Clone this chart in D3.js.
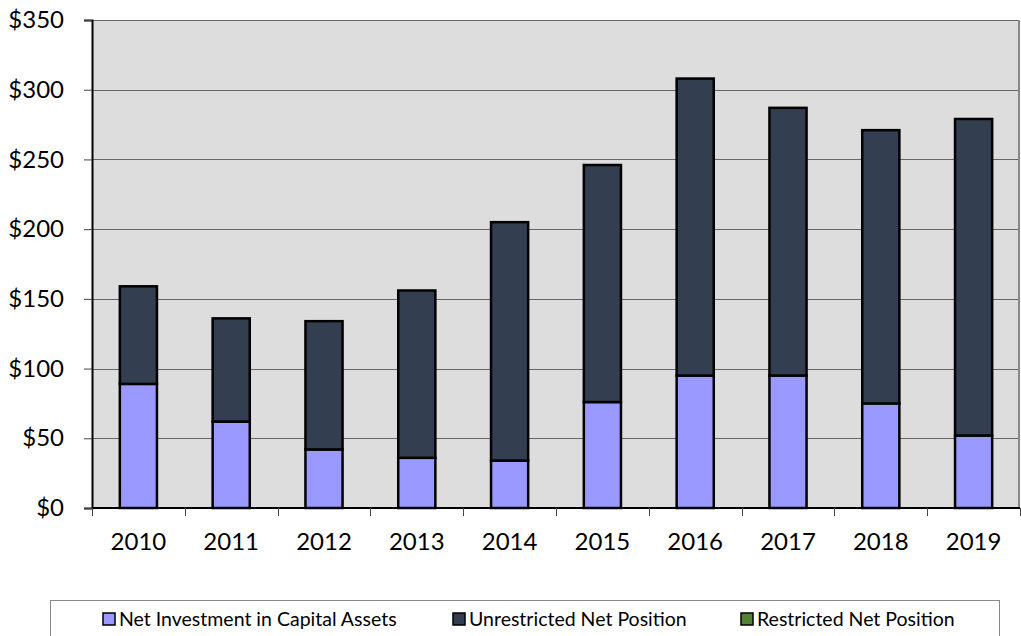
<!DOCTYPE html>
<html>
<head>
<meta charset="utf-8">
<script src="https://cdn.jsdelivr.net/npm/d3@7"></script>
<style>
  body { margin: 0; background: #fff; }
  text { font-family: Lato, "Open Sans", sans-serif; fill: #000; }
</style>
</head>
<body>
<div id="chart"></div>
<script>
var years = ["2010", "2011", "2012", "2013", "2014", "2015", "2016", "2017", "2018", "2019"]
var capitalAssets = [89, 62, 42, 36, 34, 76, 95, 95, 75, 52]
var unrestricted = [70, 74, 92, 120, 171, 170, 213, 192, 196, 227]
var restricted = [0, 0, 0, 0, 0, 0, 0, 0, 0, 0]
var seriesNames = ["Net Investment in Capital Assets", "Unrestricted Net Position", "Restricted Net Position"]
var seriesColors = ["#9999ff", "#333f50", "#548235"]
var yTicks = [0, 50, 100, 150, 200, 250, 300, 350]

var width = 1021, height = 636
var margin = {top: 20, right: 1, bottom: 128, left: 92}
var innerW = width - margin.left - margin.right
var innerH = height - margin.top - margin.bottom

var svg = d3.select("#chart").append("svg")
  .attr("width", width)
  .attr("height", height)

var g = svg.append("g")
  .attr("transform", "translate(" + margin.left + "," + margin.top + ")")

var rows = years.map(function(y, i) {
  return {year: y, capital: capitalAssets[i], unrestricted: unrestricted[i], restricted: restricted[i]}
})
var keys = ["capital", "unrestricted", "restricted"]
var stacked = d3.stack().keys(keys)(rows)

var x = d3.scaleBand().domain(years).range([0, innerW])
var y = d3.scaleLinear().domain([0, 350]).range([innerH, 0])

// plot background
g.append("rect")
  .attr("width", innerW).attr("height", innerH)
  .attr("fill", "#dddddd")

// gridlines
g.selectAll(".grid").data(yTicks.slice(1))
  .enter().append("line")
  .attr("x1", 0).attr("x2", innerW)
  .attr("y1", function(d) { return Math.round(y(d)) + 0.5 })
  .attr("y2", function(d) { return Math.round(y(d)) + 0.5 })
  .attr("stroke", "#666").attr("stroke-width", 1)

// right border
g.append("line")
  .attr("x1", innerW - 1).attr("x2", innerW - 1).attr("y1", 0).attr("y2", innerH)
  .attr("stroke", "#888").attr("stroke-width", 2)

// bars
var barW = x.bandwidth() * 0.4
g.selectAll(".series").data(stacked)
  .enter().append("g")
  .attr("fill", function(d, i) { return seriesColors[i] })
  .selectAll("rect").data(function(d) { return d.filter(function(p) { return p[1] - p[0] > 0 }) })
  .enter().append("rect")
  .attr("x", function(d) { return x(d.data.year) + (x.bandwidth() - barW) / 2 })
  .attr("y", function(d) { return y(d[1]) })
  .attr("width", barW)
  .attr("height", function(d) { return y(d[0]) - y(d[1]) })
  .attr("stroke", "#000").attr("stroke-width", 2.5)

// y axis
var yAxis = g.append("g")
  .call(d3.axisLeft(y).tickValues(yTicks).tickSize(8).tickPadding(20)
    .tickFormat(function(d) { return "$" + d }))
yAxis.select(".domain").attr("stroke", "#000").attr("stroke-width", 2)
yAxis.selectAll(".tick line").attr("stroke", "#444")
yAxis.selectAll("text").style("font-size", "24px").style("font-family", "Lato, sans-serif")

// x axis with ticks between categories
var xAxis = g.append("g").attr("transform", "translate(0," + innerH + ")")
xAxis.append("line").attr("x1", 0).attr("x2", innerW).attr("y1", 0).attr("y2", 0)
  .attr("stroke", "#000").attr("stroke-width", 2)
xAxis.selectAll(".xt").data(years.concat(["end"]))
  .enter().append("line")
  .attr("x1", function(d, i) { return Math.round(i * x.step()) + 0.5 })
  .attr("x2", function(d, i) { return Math.round(i * x.step()) + 0.5 })
  .attr("y1", 0).attr("y2", 8)
  .attr("stroke", "#444")
xAxis.selectAll(".xl").data(years)
  .enter().append("text")
  .attr("x", function(d) { return x(d) + x.bandwidth() / 2 })
  .attr("y", 42)
  .attr("text-anchor", "middle")
  .style("font-size", "24px")
  .text(function(d) { return d })

// legend
var legend = svg.append("g")
legend.append("rect")
  .attr("x", 50.5).attr("y", 600.5).attr("width", 949).attr("height", 40)
  .attr("fill", "#fff").attr("stroke", "#888")
var legendX = [103, 453, 741]
var items = legend.selectAll(".item").data(seriesNames)
  .enter().append("g")
  .attr("transform", function(d, i) { return "translate(" + legendX[i] + ",613)" })
items.append("rect")
  .attr("width", 12).attr("height", 12)
  .attr("fill", function(d, i) { return seriesColors[i] })
  .attr("stroke", "#000").attr("stroke-width", 1.5)
items.append("text")
  .attr("x", 16).attr("y", 13)
  .style("font-size", "19.5px")
  .text(function(d) { return d })
</script>
</body>
</html>
